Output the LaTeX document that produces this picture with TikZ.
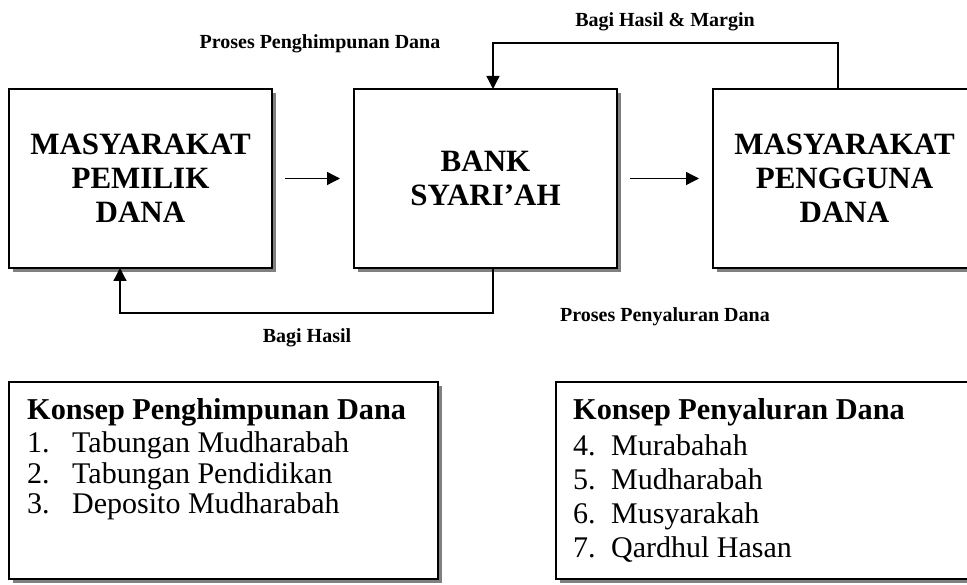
\documentclass[tikz,border=0pt]{standalone}
\usepackage{fontspec}
\setmainfont{Liberation Serif}
\usetikzlibrary{arrows.meta,shadows}
\tikzset{
  bigbox/.style={draw=black,line width=1.5pt,fill=white,minimum width=263pt,minimum height=179pt,inner sep=0pt,outer sep=0pt,
    drop shadow={shadow xshift=4pt,shadow yshift=-4pt,fill=black!50,opacity=1},
    align=center,font=\fontsize{31}{34}\selectfont\bfseries},
  listbox/.style={draw=black,line width=1.5pt,fill=white,minimum width=429pt,minimum height=197pt,inner sep=0pt,outer sep=0pt,
    drop shadow={shadow xshift=4pt,shadow yshift=-4pt,fill=black!50,opacity=1}},
  lbl/.style={font=\fontsize{20}{22}\selectfont\bfseries,anchor=base,inner sep=0pt},
  ltitle/.style={font=\fontsize{30.3}{32}\selectfont\bfseries,anchor=base west,inner sep=0pt},
  litem/.style={font=\fontsize{30}{32}\selectfont,anchor=base west,inner sep=0pt},
  arr/.style={line width=1.3pt,-{Triangle[length=13pt,width=13pt]}},
}
\newcommand{\numitem}[3][45pt]{\makebox[#1][l]{#2}#3}
\begin{document}
\begin{tikzpicture}[x=1pt,y=-1pt]
\useasboundingbox (0,0) rectangle (967,585);
\clip (0,0) rectangle (967,585);
% main boxes
\node[bigbox] (b1) at (140.5,178.5) {MASYARAKAT\\PEMILIK\\DANA};
\node[bigbox] (b2) at (485.5,178.5) {BANK\\SYARI’AH};
\node[bigbox] (b3) at (844.5,178.5) {MASYARAKAT\\PENGGUNA\\DANA};
% connectors
\draw[arr] ([xshift=13pt]b1.east) -- ([xshift=-14pt]b2.west);
\draw[arr] ([xshift=13pt]b2.east) -- ([xshift=-14pt]b3.west);
\draw[arr] ([xshift=-6.5pt]b3.north) -- ++(0,-46) -| ([xshift=7.5pt]b2.north);
\draw[arr] ([xshift=7.5pt]b2.south) -- ++(0,45) -| ([xshift=-20.5pt]b1.south);
% labels
\node[lbl] (l1) at (320,49) {Proses Penghimpunan Dana};
\node[lbl] (l2) at (665,27) {Bagi Hasil \& Margin};
\node[lbl] (l3) at (665,322) {Proses Penyaluran Dana};
\node[lbl] (l4) at (307,343) {Bagi Hasil};
% list boxes
\node[listbox] (k1) at (223.5,480.5) {};
\node[listbox] (k2) at (770.5,480.5) {};
\node[ltitle] (k1t) at (27,420) {Konsep Penghimpunan Dana};
\node[litem] (k1a) at (27,452) {\numitem{1.}{Tabungan Mudharabah}};
\node[litem] (k1b) at (27,483) {\numitem{2.}{Tabungan Pendidikan}};
\node[litem] (k1c) at (27,513) {\numitem{3.}{Deposito Mudharabah}};
\node[ltitle] (k2t) at (573,420) {Konsep Penyaluran Dana};
\node[litem] (k2a) at (573,455) {\numitem[38pt]{4.}{Murabahah}};
\node[litem] (k2b) at (573,489) {\numitem[38pt]{5.}{Mudharabah}};
\node[litem] (k2c) at (573,523) {\numitem[38pt]{6.}{Musyarakah}};
\node[litem] (k2d) at (573,557) {\numitem[38pt]{7.}{Qardhul Hasan}};
\end{tikzpicture}
\end{document}
